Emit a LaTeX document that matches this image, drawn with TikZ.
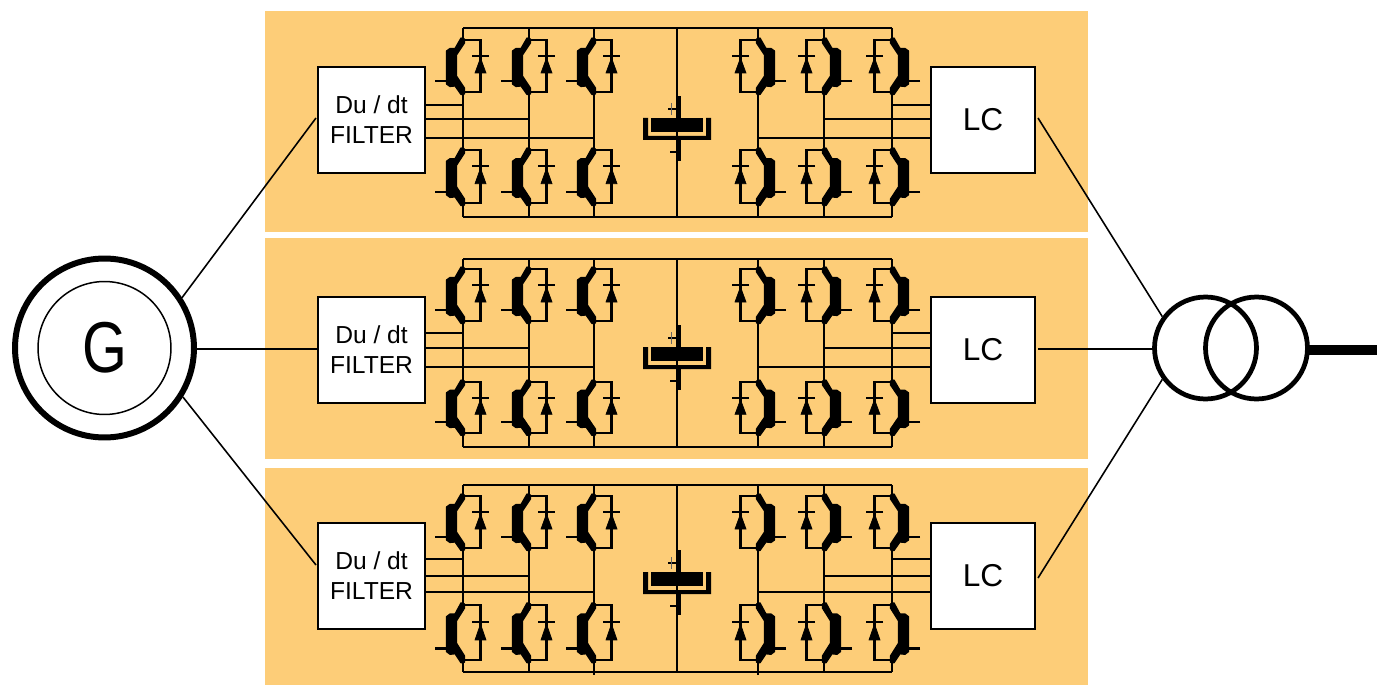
\documentclass[tikz,border=0pt]{standalone}
\usepackage{fontspec}
\setmainfont{Liberation Sans}
\usepackage{xcolor}
\usepackage{graphicx}
\definecolor{panelcol}{HTML}{FDCD78}

\tikzset{
    igbt/.pic={
        \filldraw[line width=0.7pt, line join=round] (-16.5,11) -- (-13,8.5) -- (-8,8.5) -- (-2,-2) -- (1.5,-1) -- (1.5,3) -- (-6.5,15) -- (-6.5,36)
            -- (1.5,48) -- (1.5,54) -- (-2,54.5) -- (-8,46) -- (-13,46.5) -- (-16.5,44) -- cycle;
        \draw[wire] (-28,41) -- (-17,41);
        \draw[wire] (0,0) -- (17.5,0) -- (17.5,52) -- (0,52);
        \draw[wire] (9,16) -- (26,16);
        \filldraw[line width=0.4pt] (17.5,18) -- (23,33) -- (12,33) -- cycle;
    },
    dccap/.pic={
        \fill (-26,0) rectangle (26,14);
        \fill (-34,0) -- (-29,0) -- (-29,18) -- (29,18) -- (29,0) -- (34,0) -- (34,22) -- (-34,22) -- cycle;
        \fill (0,-22) rectangle (4,0);
        \fill (0,22) rectangle (4,43);
        \draw[line width=0.9pt] (-9,-9) -- (-1,-9);
        \draw[line width=0.5pt,black!60] (-6,-15) -- (-6,-3);
        \draw[line width=0.9pt] (-7,34) -- (-1,34);
    }
}

\begin{document}
\begin{tikzpicture}[
    x=0.02cm, y=-0.02cm,
    wire/.style={line width=1.3pt},
    link/.style={line width=0.9pt},
    filterbox/.style={rectangle, draw, line width=1.2pt, fill=white, minimum width=2.14cm, minimum height=2.12cm, align=center, inner sep=0pt, font=\fontsize{14}{17}\selectfont},
    lcbox/.style={rectangle, draw, line width=1.2pt, fill=white, minimum width=2.08cm, minimum height=2.12cm, inner sep=0pt, font=\fontsize{18}{20}\selectfont},
    winding/.style={circle, draw, line width=2.7pt, minimum size=2.04cm, inner sep=0pt}
]
\useasboundingbox (0,0) rectangle (1377,686);

% Panels
\fill[panelcol] (265,11) rectangle (1088,232);
\fill[panelcol] (265,238) rectangle (1088,459);
\fill[panelcol] (265,468) rectangle (1088,685);

% Generator and transformer
\node[circle, draw, line width=3.4pt, minimum size=3.58cm, inner sep=0pt] (gen) at (104.5,348) {};
\node[circle, draw, line width=0.85pt, minimum size=2.66cm, inner sep=0pt, font=\fontsize{41}{44}\selectfont] (genin) at (104.5,348) {\scalebox{0.8}[1]{G}};
\node[winding] (trA) at (1205.5,348) {};
\node[winding] (trB) at (1256.5,348) {};
\coordinate (trout) at (1307,350);
\coordinate (grid) at (1377,350);
\draw[line width=6.2pt] (trout) -- (grid);

% One converter per panel
\foreach \n/\yc/\rt/\ua/\la/\rb/\lk/\ha/\hb/\hc/\cy in {
    1/120/28/40/150/217/1.02/105/119/138/118,
    2/350/259/269/382/447/0.98/333/348/367/347,
    3/576/485/496/605/672/1.06/559/576/592/572} {
    \node[filterbox] (df\n) at (371.5,\yc) {Du / dt\\FILTER};
    \node[lcbox] (lc\n) at (983,\yc) {LC};
    % Rails and capacitor
    \coordinate (rl\n) at (463,\rt);
    \coordinate (rr\n) at (892,\rt);
    \coordinate (bl\n) at (463,\rb);
    \coordinate (br\n) at (892,\rb);
    \draw[wire] (rl\n) -- (rr\n);
    \draw[wire] (bl\n) -- (br\n);
    \draw[wire] (677,\rt) -- (677,\rb);
    \pic at (677,\cy) {dccap};
    % Legs
    \foreach \x in {463,529,594,758,824,892} {
        \draw[wire] (\x,\rt) -- (\x,\ua);
        \draw[wire] (\x,\ua+52) -- (\x,\la);
        \draw[wire] (\x,\la+52*\lk) -- (\x,\rb);
    }
    \foreach \x in {463,529,594} {
        \pic at (\x,\ua) {igbt};
        \pic[yscale=\lk] at (\x,\la) {igbt};
    }
    \foreach \x in {758,824,892} {
        \pic[xscale=-1] at (\x,\ua) {igbt};
        \pic[xscale=-1, yscale=\lk] at (\x,\la) {igbt};
    }
    % Phase wires
    \coordinate (ja\n) at (463,\ha);
    \coordinate (jb\n) at (529,\hb);
    \coordinate (jc\n) at (594,\hc);
    \coordinate (ka\n) at (892,\ha);
    \coordinate (kb\n) at (824,\hb);
    \coordinate (kc\n) at (758,\hc);
    \draw[wire] (df\n.east |- ja\n) -- (ja\n);
    \draw[wire] (df\n.east |- jb\n) -- (jb\n);
    \draw[wire] (df\n.east |- jc\n) -- (jc\n);
    \draw[wire] (lc\n.west |- ka\n) -- (ka\n);
    \draw[wire] (lc\n.west |- kb\n) -- (kb\n);
    \draw[wire] (lc\n.west |- kc\n) -- (kc\n);
}
\draw[wire] (594,672) -- (594,675);
\draw[wire] (758,672) -- (758,675);

% Links
\coordinate (inA) at (316,118);
\coordinate (inB) at (318,349);
\coordinate (inC) at (316,565);
\coordinate (outA) at (1038,118);
\coordinate (outB) at (1038,349);
\coordinate (outC) at (1038,578);
\draw[link] (gen.33) -- (inA);
\draw[link] (gen.east |- inB) -- (inB);
\draw[link] (gen.-32) -- (inC);
\draw[link] (outA) -- (trA.144);
\draw[link] (outB) -- (trA.west |- outB);
\draw[link] (outC) -- (trA.216);

\end{tikzpicture}
\end{document}
